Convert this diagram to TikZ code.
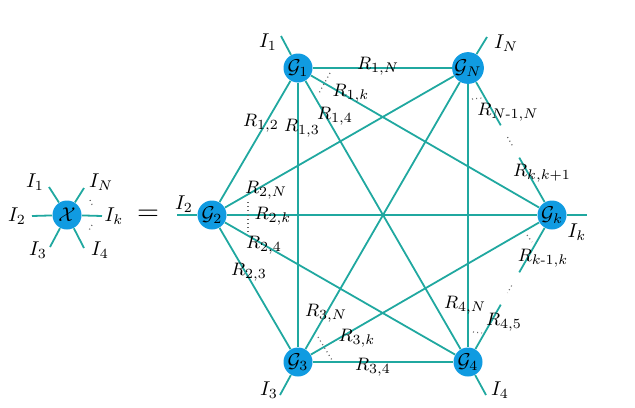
\documentclass[tikz,border=0pt]{standalone}
\usepackage{amsmath,amssymb}
\usepackage{xcolor}
\usetikzlibrary{calc}
\definecolor{bondteal}{RGB}{32,168,160}
\definecolor{tensorblue}{RGB}{16,155,225}

\begin{document}
\begin{tikzpicture}[x=0.5pt, y=-0.5pt,
  tensor/.style={circle, fill=tensorblue, minimum size=14.5pt, inner sep=0pt},
  bond/.style={draw=bondteal, line width=0.9pt},
  dots/.style={draw=gray!80!black, line width=0.6pt, dash pattern=on 0.5pt off 1.6pt},
  lbl/.style={inner sep=0pt},
  rlbl/.style={inner sep=0pt, font=\fontsize{9.5}{11}\selectfont}]
\useasboundingbox (0,0) rectangle (635,407);

% left tensor
\node[tensor] (X) at (67,215) {$\mathcal{X}$};
\coordinate (xa) at (49,187);
\coordinate (xb) at (84,188);
\coordinate (xc) at (32,216);
\coordinate (xd) at (102,216);
\coordinate (xe) at (50,247);
\coordinate (xf) at (84,248);
\foreach \e in {xa,xb,xc,xd,xe,xf} \draw[bond] (X) -- (\e);
\draw[dots] ($(X)+(23,-15)$) -- ($(X)+(26,-8)$);
\draw[dots] ($(X)+(25,10)$) -- ($(X)+(21,17)$);
\node[lbl] (xI1) at (35,182) {$I_1$};
\node[lbl] (xIN) at (101,182) {$I_N$};
\node[lbl] (xI2) at (17,216) {$I_2$};
\node[lbl] (xIk) at (114,216) {$I_k$};
\node[lbl] (xI3) at (38,250) {$I_3$};
\node[lbl] (xI4) at (100,250) {$I_4$};

\node[lbl] (eq) at (148,215) {\Large $=$};

% network
\node[tensor] (G1) at (298,68) {$\mathcal{G}_1$};
\node[tensor] (GN) at (468,68) {$\mathcal{G}_N$};
\node[tensor] (G2) at (212,215) {$\mathcal{G}_2$};
\node[tensor] (Gk) at (552,215) {$\mathcal{G}_k$};
\node[tensor] (G3) at (298,362) {$\mathcal{G}_3$};
\node[tensor] (G4) at (468,362) {$\mathcal{G}_4$};

\draw[bond] (G1) -- (GN);
\draw[bond] (G1) -- (G2);
\draw[bond] (G1) -- (G3);
\draw[bond] (G1) -- (G4);
\draw[bond] (G1) -- (Gk);
\draw[bond] (G2) -- (GN);
\draw[bond] (G2) -- (Gk);
\draw[bond] (G2) -- (G4);
\draw[bond] (G2) -- (G3);
\draw[bond] (G3) -- (GN);
\draw[bond] (G3) -- (Gk);
\draw[bond] (G3) -- (G4);
\draw[bond] (G4) -- (GN);

% open sides of the ring
\coordinate (pNk) at ($(GN)!0.39!(Gk)$);
\coordinate (pkN) at ($(Gk)!0.39!(GN)$);
\coordinate (pk4) at ($(Gk)!0.39!(G4)$);
\coordinate (p4k) at ($(G4)!0.39!(Gk)$);
\draw[bond] (GN) -- (pNk);
\draw[bond] (Gk) -- (pkN);
\draw[bond] (Gk) -- (pk4);
\draw[bond] (G4) -- (p4k);
\draw[dots] ($(GN)!0.47!(Gk)$) -- ($(GN)!0.54!(Gk)$);
\draw[dots] ($(Gk)!0.48!(G4)$) -- ($(Gk)!0.53!(G4)$);

% open legs
\coordinate (e1) at (281,36);
\coordinate (eN) at (487,37);
\coordinate (e2) at (177,215);
\coordinate (ek) at (587,215);
\coordinate (e3) at (280,395);
\coordinate (e4) at (486,395);
\draw[bond] (G1) -- (e1);
\draw[bond] (GN) -- (eN);
\draw[bond] (G2) -- (e2);
\draw[bond] (Gk) -- (ek);
\draw[bond] (G3) -- (e3);
\draw[bond] (G4) -- (e4);
\node[lbl] (I1) at (268,42) {$I_1$};
\node[lbl] (IN) at (506,43) {$I_N$};
\node[lbl] (I2) at (184,204) {$I_2$};
\node[lbl] (Ik) at (577,232) {$I_k$};
\node[lbl] (I3) at (269,390) {$I_3$};
\node[lbl] (I4) at (500,390) {$I_4$};

% omitted bonds
\draw[dots] ($(G1)+(32,5)$) -- ($(G1)+(20,27)$);
\draw[dots] ($(G2)+(36,-13)$) -- ($(G2)+(36,17)$);
\draw[dots] ($(G3)+(20,-25)$) -- ($(G3)+(34,-2)$);
\draw[dots] ($(G4)+(5,-30)$) -- ($(G4)+(14,-29)$);
\draw[dots] ($(GN)+(4,31)$) -- ($(GN)+(14,30)$);
\draw[dots] ($(Gk)+(-25,20)$) -- ($(Gk)+(-20,27)$);

% bond labels
\node[rlbl] (R1N) at (378,66) {$R_{1,N}$};
\node[rlbl] (R1k) at (351,93) {$R_{1,k}$};
\node[rlbl] (R14) at (335,116) {$R_{1,4}$};
\node[rlbl] (R13) at (302,128) {$R_{1,3}$};
\node[rlbl] (R12) at (261,123) {$R_{1,2}$};
\node[rlbl] (RNN) at (508,112) {$R_{N\text{-}1,N}$};
\node[rlbl] (Rkk) at (542,173) {$R_{k,k+1}$};
\node[rlbl] (R2N) at (266,190) {$R_{2,N}$};
\node[rlbl] (R2k) at (273,216) {$R_{2,k}$};
\node[rlbl] (R24) at (264,245) {$R_{2,4}$};
\node[rlbl] (R23) at (249,272) {$R_{2,3}$};
\node[rlbl] (Rk1) at (543,258) {$R_{k\text{-}1,k}$};
\node[rlbl] (R4N) at (465,305) {$R_{4,N}$};
\node[rlbl] (R45) at (504,322) {$R_{4,5}$};
\node[rlbl] (R3N) at (326,313) {$R_{3,N}$};
\node[rlbl] (R3k) at (357,338) {$R_{3,k}$};
\node[rlbl] (R34) at (373,367) {$R_{3,4}$};
\end{tikzpicture}
\end{document}
